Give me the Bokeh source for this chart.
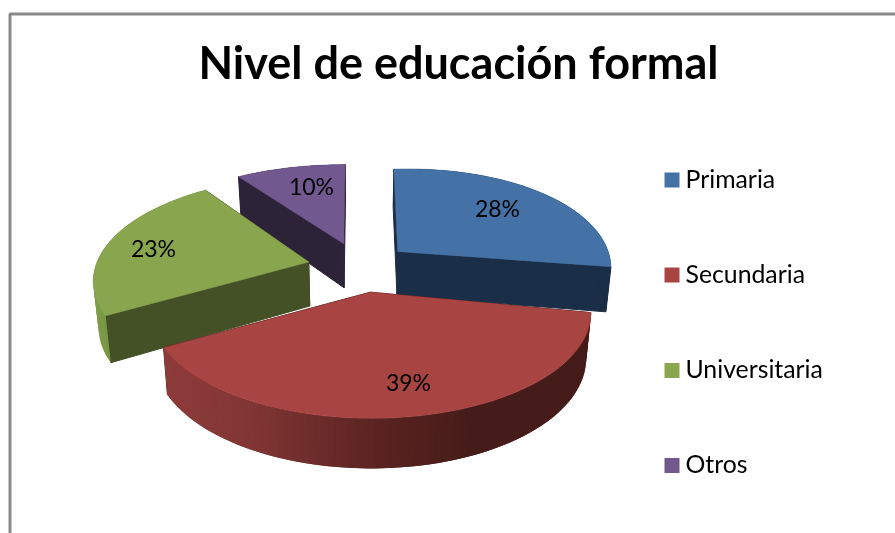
import math
from bokeh.plotting import figure
from bokeh.models import Range1d
from bokeh.embed import file_html
from bokeh.resources import INLINE
from bokeh.core.properties import value

# ---- data
title_text = "Nivel de educación formal"
categories = ["Primaria", "Secundaria", "Universitaria", "Otros"]
percent = [28, 39, 23, 10]

# ---- styles
top_colors = ["#4472A7", "#A84442", "#89A54E", "#71588F"]
side_colors = ["#1B2E47", "#431B18", "#445126", "#2D2339"]
wall_stops = [
    [(560, "#1B2E47"), (620, "#1B2E47")],
    [(163, "#8E3B3A"), (250, "#803634"), (370, "#5C2422"), (470, "#451C19"), (600, "#451C19")],
    [(90, "#7F9E4B"), (115, "#72903F")],
    [(200, "#2D2339"), (350, "#2D2339")],
]
label_pos = [(497, 207), (408, 381), (153, 247), (311, 185)]
legend_y = [179.5, 274.5, 370, 465]
legend_text_y = [177.5, 272.5, 368, 463]
FONT = "Lato"

# ---- projection (screen pixel scale)
CX, CY = 358, 267       # pie centre
EX, EY = 51, 25         # explosion
RX, RY = 216, 103       # radii
LEAN = 0.1
DEPTH = 44
DEPTH_K = 0.14
SHRINK = 0.02
# per-slice fine adjustment of the drawing
persp = [0.2, 0.2, 0.17, 0.2]
scale_x = [0.965, 1.0, 0.98, 1.0]
scale_y = [1.0, 1.02, 1.0, 0.96]
apex_dx = [0, 4, 0, 1]
shear = [5, 0, 0, 0]


def hex2rgb(h):
    return tuple(int(h[i:i + 2], 16) for i in (1, 3, 5))


def ramp(stops, x):
    if x <= stops[0][0]:
        return stops[0][1]
    for (x0, c0), (x1, c1) in zip(stops, stops[1:]):
        if x <= x1:
            t = (x - x0) / (x1 - x0)
            a, b = hex2rgb(c0), hex2rgb(c1)
            return "#%02x%02x%02x" % tuple(round(p + (q - p) * t) for p, q in zip(a, b))
    return stops[-1][1]


def top_point(i, ax, ay, deg):
    th = math.radians(deg)
    u, v = math.sin(th), math.cos(th)
    s = 1 - persp[i] * v
    x = ax + RX * scale_x[i] * u * s - LEAN * v * (ax - CX)
    y = ay - RY * scale_y[i] * v * s - shear[i] * u
    return x, y, v


def lower(x, y, v):
    return x - SHRINK * (x - CX), y + DEPTH * (1 - DEPTH_K * v)


p = figure(width=895, height=533, output_backend="svg", toolbar_location=None,
           x_range=Range1d(0, 895), y_range=Range1d(533, 0),
           min_border=0, outline_line_color=None, background_fill_color="white",
           border_fill_color="white",
           styles={"position": "fixed", "left": "0px", "top": "0px"})
p.axis.visible = False
p.grid.visible = False

# frame
p.line([9.5, 9.5, 895], [533, 13.5, 13.5], line_color="#8A8A8A", line_width=3)

# slice angles
starts, acc = [], 0.0
for v_ in percent:
    starts.append(acc)
    acc += v_ * 3.6

for i in [3, 0, 2, 1]:    # painter's order, back to front
    a0 = starts[i]
    a1 = a0 + percent[i] * 3.6
    mid = math.radians((a0 + a1) / 2)
    ax = CX + EX * math.sin(mid) + apex_dx[i]
    ay = CY - EY * math.cos(mid)
    apex_low = lower(ax, ay, 0)
    n = max(2, int((a1 - a0) / 1.5))
    angs = [a0 + (a1 - a0) * k / n for k in range(n + 1)]
    pts = [top_point(i, ax, ay, a) for a in angs]
    lows = [lower(*q) for q in pts]

    # cut faces
    for q, l in ((pts[0], lows[0]), (pts[-1], lows[-1])):
        p.patch([ax, q[0], l[0], apex_low[0]], [ay, q[1], l[1], apex_low[1]],
                fill_color=side_colors[i], line_color=side_colors[i], line_width=1)
    # outer wall, shaded strip by strip, each strip overlapping the next
    for k in range(n):
        e = min(k + 2, n)
        xs = [pts[k][0], pts[e][0], lows[e][0], lows[k][0]]
        ys = [pts[k][1], pts[e][1], lows[e][1], lows[k][1]]
        c = ramp(wall_stops[i], (pts[k][0] + pts[k + 1][0]) / 2)
        p.patch(xs, ys, fill_color=c, line_color=None)
    # top face
    p.patch([ax] + [q[0] for q in pts], [ay] + [q[1] for q in pts],
            fill_color=top_colors[i], line_color=top_colors[i], line_width=0.5)

# percentage labels
p.text([q[0] for q in label_pos], [q[1] for q in label_pos],
       text=[f"{v_}%" for v_ in percent], text_font=value(FONT), text_font_size="23px",
       text_color="#000000", text_align="center", text_baseline="middle")

# legend
p.rect([671.5] * 4, legend_y, width=15, height=15, fill_color=top_colors, line_color=None)
p.text([685] * 4, legend_text_y, text=categories, text_font=value(FONT), text_font_size="24.8px",
       text_color="#000000", text_align="left", text_baseline="middle")

# title
p.text([458], [61], text=[title_text], text_font=value(FONT), text_font_size="45px",
       text_font_style="bold", text_color="#000000", text_align="center", text_baseline="middle")

open("out.html", "w").write(file_html(p, INLINE))
